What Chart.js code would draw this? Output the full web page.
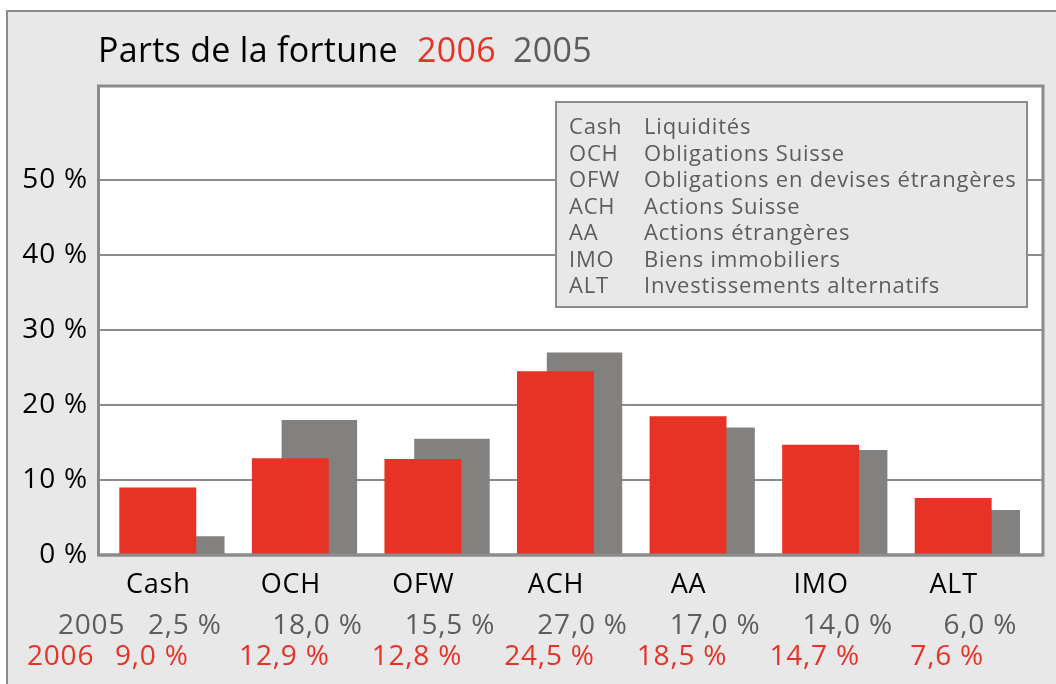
<!DOCTYPE html>
<html>
<head>
<meta charset="utf-8">
<script src="https://cdn.jsdelivr.net/npm/chart.js@4/dist/chart.umd.min.js"></script>
<style>
  html, body { margin: 0; padding: 0; background: #fff; }
  #wrap { width: 1056px; height: 684px; position: relative; }
</style>
</head>
<body>
<div id="wrap"><canvas id="c"></canvas></div>
<script>
const categories = ["Cash", "OCH", "OFW", "ACH", "AA", "IMO", "ALT"]
const values2006 = [9.0, 12.9, 12.8, 24.5, 18.5, 14.7, 7.6]
const values2005 = [2.5, 18.0, 15.5, 27.0, 17.0, 14.0, 6.0]
const yTicks = [0, 10, 20, 30, 40, 50]
const legendCodes = ["Cash", "OCH", "OFW", "ACH", "AA", "IMO", "ALT"]
const legendNames = [
  "Liquidités",
  "Obligations Suisse",
  "Obligations en devises étrangères",
  "Actions Suisse",
  "Actions étrangères",
  "Biens immobiliers",
  "Investissements alternatifs"
]

const RED = "#e63325"
const GREY = "#83817f"
const GREY_TEXT = "#5f5c5a"
const LINE = "#8b8b8b"
const BG = "#e8e8e8"
const FONT = "'Open Sans', 'Noto Sans', sans-serif"

const fmt = v => v.toFixed(1).replace(".", ",") + " %"

const decor = {
  id: "decor",
  beforeDraw(chart) {
    const { ctx, chartArea: a } = chart
    ctx.save()
    ctx.fillStyle = "#fff"
    ctx.fillRect(0, 0, chart.width, chart.height)
    ctx.fillStyle = BG
    ctx.fillRect(7, 11, chart.width, chart.height)
    ctx.strokeStyle = LINE
    ctx.lineWidth = 2
    ctx.strokeRect(7, 11, chart.width + 10, chart.height + 10)

    // plot frame, white
    const fl = a.left - 7.5, fr = a.right + 9, ft = a.top, fb = a.bottom
    ctx.fillStyle = "#fff"
    ctx.fillRect(fl, ft, fr - fl, fb - ft)

    // grid lines
    const y = chart.scales.y
    ctx.lineWidth = 2
    yTicks.forEach(t => {
      if (t === 0) return
      const py = Math.round(y.getPixelForValue(t))
      ctx.beginPath()
      ctx.moveTo(fl, py)
      ctx.lineTo(fr, py)
      ctx.stroke()
    })
    ctx.lineWidth = 3
    ctx.strokeRect(fl, ft, fr - fl, fb - ft)

    // title
    ctx.font = "34px " + FONT
    ctx.letterSpacing = "0.3px"
    ctx.textBaseline = "alphabetic"
    ctx.textAlign = "left"
    ctx.fillStyle = "#000"
    ctx.fillText("Parts de la fortune", 98, 62)
    ctx.fillStyle = RED
    ctx.fillText("2006", 417, 62)
    ctx.fillStyle = GREY_TEXT
    ctx.fillText("2005", 513, 62)
    ctx.restore()
    // slightly wider lettering for axis labels too
    ctx.letterSpacing = "0.8px"
  },
  afterDraw(chart) {
    const { ctx } = chart
    ctx.save()
    ctx.letterSpacing = "0.8px"
    // redraw bottom frame line over bars
    const a = chart.chartArea
    ctx.strokeStyle = LINE
    ctx.lineWidth = 3
    ctx.beginPath()
    ctx.moveTo(a.left - 7.5, a.bottom)
    ctx.lineTo(a.right + 9, a.bottom)
    ctx.stroke()

    // legend box
    ctx.fillStyle = BG
    ctx.fillRect(556, 102, 471, 205)
    ctx.lineWidth = 2
    ctx.strokeRect(556, 102, 471, 205)
    ctx.font = "22px " + FONT
    ctx.fillStyle = GREY_TEXT
    ctx.textBaseline = "alphabetic"
    legendCodes.forEach((c, i) => {
      const by = 134 + i * 26.5
      ctx.fillText(c, 569, by)
      ctx.fillText(legendNames[i], 644, by)
    })

    // value rows
    const m06 = chart.getDatasetMeta(0)
    const m05 = chart.getDatasetMeta(1)
    ctx.font = "28px " + FONT
    ctx.textAlign = "center"
    ctx.fillStyle = GREY_TEXT
    m05.data.forEach((bar, i) => ctx.fillText(fmt(values2005[i]), bar.x - 2, 634))
    ctx.fillStyle = RED
    m06.data.forEach((bar, i) => ctx.fillText(fmt(values2006[i]), bar.x - 6, 665))
    ctx.textAlign = "left"
    ctx.fillStyle = GREY_TEXT
    ctx.fillText("2005", 58, 634)
    ctx.fillStyle = RED
    ctx.fillText("2006", 27, 665)
    ctx.restore()
  }
}

new Chart(document.getElementById("c"), {
  type: "bar",
  data: {
    labels: categories,
    datasets: [
      { label: "2006", data: values2006, backgroundColor: RED, categoryPercentage: 0.438, barPercentage: 2.65 },
      { label: "2005", data: values2005, backgroundColor: GREY, categoryPercentage: 0.438, barPercentage: 2.6 }
    ]
  },
  options: {
    responsive: true,
    maintainAspectRatio: false,
    animation: false,
    layout: { padding: { top: 86, right: 22, bottom: 0, left: 0 } },
    plugins: { legend: { display: false }, tooltip: { enabled: false } },
    scales: {
      x: {
        grid: { display: false, drawTicks: false },
        border: { display: false },
        afterFit(scale) { scale.height = 129 },
        ticks: {
          color: "#000",
          font: { family: FONT, size: 27 },
          padding: 14,
          labelOffset: -14,
          maxRotation: 0
        }
      },
      y: {
        min: 0,
        max: 62.5,
        grid: { display: false, drawTicks: false },
        border: { display: false },
        afterFit(scale) { scale.width = 106 },
        afterBuildTicks(scale) { scale.ticks = yTicks.map(v => ({ value: v })) },
        ticks: {
          color: "#000",
          font: { family: FONT, size: 28 },
          padding: 18,
          callback: v => v + " %"
        }
      }
    }
  },
  plugins: [decor]
})
</script>
</body>
</html>
